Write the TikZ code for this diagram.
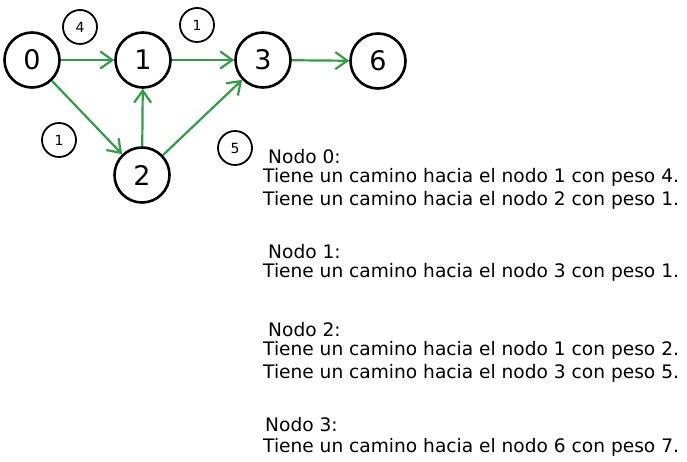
\documentclass[tikz,border=0pt]{standalone}
\usepackage{fontspec}
\setmainfont{DejaVu Sans}
\usetikzlibrary{arrows.meta}
\definecolor{verde}{RGB}{47,158,68}

\begin{document}
\begin{tikzpicture}[x=1pt,y=-1pt,
    vertice/.style={circle, draw, line width=2.6pt, minimum size=55pt, inner sep=0pt, font=\fontsize{27}{27}\selectfont},
    peso/.style={circle, draw, line width=1.8pt, minimum size=34pt, inner sep=0pt, font=\fontsize{14}{14}\selectfont},
    arista/.style={verde, line width=2.2pt, -{Straight Barb[length=12pt,width=17pt,line width=2.2pt]}},
    linea/.style={anchor=west, inner sep=0pt, font=\fontsize{18.6}{18}\selectfont}]
    \useasboundingbox (0,0) rectangle (687,462);

    \coordinate (V0) at (32, 60);
    \coordinate (V1) at (143, 60);
    \coordinate (V2) at (142, 175);
    \coordinate (V3) at (263, 60);
    \coordinate (V6) at (378, 61);

    \coordinate (P1) at (80, 27);
    \coordinate (P2) at (197, 25);
    \coordinate (P3) at (59, 140);
    \coordinate (P4) at (235, 148);

    \node[vertice] (n0) at (V0) {0};
    \node[vertice] (n1) at (V1) {1};
    \node[vertice] (n2) at (V2) {2};
    \node[vertice] (n3) at (V3) {3};
    \node[vertice] (n6) at (V6) {6};

    \draw[arista] (n0) -- (n1);
    \draw[arista] (n1) -- (n3);
    \draw[arista] (n3) -- (n6);
    \draw[arista] (n0) -- (n2);
    \draw[arista] (n2) -- (n1);
    \draw[arista] (n2) -- (n3);

%pesos
    \node[peso] (w01) at (P1) {4};
    \node[peso] (w13) at (P2) {1};
    \node[peso] (w02) at (P3) {1};
    \node[peso] (w23) at (P4) {5};

%texto
    \node[linea] (t0) at (268, 157) {Nodo 0:};
    \node[linea] (t1) at (263, 177) {Tiene un camino hacia el nodo 1 con peso 4.};
    \node[linea] (t2) at (263, 200) {Tiene un camino hacia el nodo 2 con peso 1.};
    \node[linea] (t3) at (268, 252) {Nodo 1:};
    \node[linea] (t4) at (263, 272) {Tiene un camino hacia el nodo 3 con peso 1.};
    \node[linea] (t5) at (268, 330) {Nodo 2:};
    \node[linea] (t6) at (263, 350) {Tiene un camino hacia el nodo 1 con peso 2.};
    \node[linea] (t7) at (263, 373) {Tiene un camino hacia el nodo 3 con peso 5.};
    \node[linea] (t8) at (265, 425) {Nodo 3:};
    \node[linea] (t9) at (263, 447) {Tiene un camino hacia el nodo 6 con peso 7.};
\end{tikzpicture}
\end{document}
